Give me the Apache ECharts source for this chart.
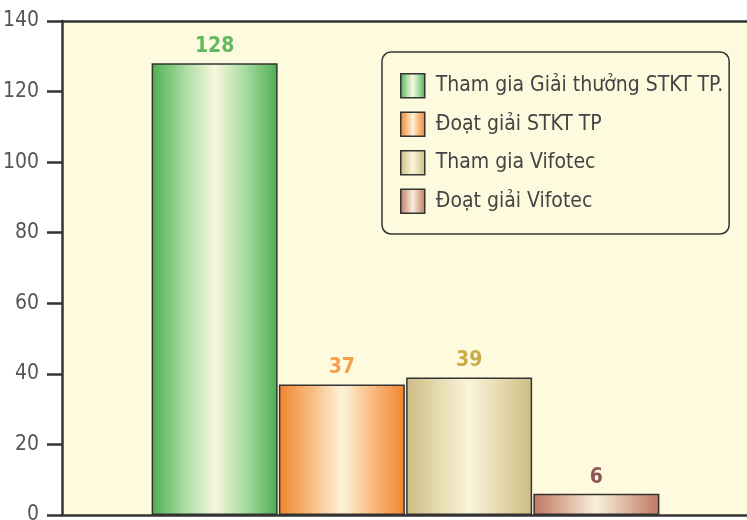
<!DOCTYPE html>
<html>
<head>
<meta charset="utf-8">
<script src="https://cdn.jsdelivr.net/npm/echarts@6/dist/echarts.min.js"></script>
<style>
  html, body { margin: 0; padding: 0; background: #fff; }
  #main { width: 747px; height: 520px; }
</style>
</head>
<body>
<div id="main"></div>
<script>
const categories = [""];
const seriesNames = [
  "Tham gia Giải thưởng STKT TP.",
  "Đoạt giải STKT TP",
  "Tham gia Vifotec",
  "Đoạt giải Vifotec"
];
const seriesValues = [128, 37, 39, 6];
const yTicks = [0, 20, 40, 60, 80, 100, 120, 140];

const FONT = "'DejaVu Sans Condensed', 'Noto Sans', sans-serif";

// edge / quarter / centre colours of each bar, plus its label colour
const palette = [
  { edge: "#4CAF50", mid: "#A5DA9E", light: "#F8F8DE", label: "#62BA5E" },
  { edge: "#F2852E", mid: "#F8B97C", light: "#FDF3DA", label: "#F6A04C" },
  { edge: "#CDBB82", mid: "#E5DAAF", light: "#FAF5DA", label: "#CBAB48" },
  { edge: "#BF7860", mid: "#DDB39E", light: "#F8F0DC", label: "#8E5656" }
];

let grad = (p) =>
  new echarts.graphic.LinearGradient(0, 0, 1, 0, [
    { offset: 0, color: p.edge },
    { offset: 0.25, color: p.mid },
    { offset: 0.5, color: p.light },
    { offset: 0.75, color: p.mid },
    { offset: 1, color: p.edge }
  ]);

let myChart = echarts.init(document.getElementById("main"));

let series = seriesNames.map((name, i) => ({
  name: name,
  type: "bar",
  data: [seriesValues[i]],
  barWidth: 126,
  barGap: "1%",
  itemStyle: {
    color: grad(palette[i]),
    borderColor: "#333",
    borderWidth: 1.5
  },
  label: {
    show: true,
    position: "top",
    distance: 6,
    fontFamily: FONT,
    fontWeight: "bold",
    fontSize: 21,
    color: palette[i].label
  }
}));

let option = {
  animation: false,
  textStyle: { fontFamily: FONT },
  grid: {
    left: 62,
    right: -2,
    top: 21,
    bottom: 5,
    outerBoundsMode: "none",
    containLabel: false,
    show: true,
    backgroundColor: "#FEFADE",
    borderWidth: 0
  },
  legend: {
    orient: "vertical",
    left: 382,
    top: 52,
    padding: [21, 6, 20, 18],
    backgroundColor: "#FEFADE",
    borderColor: "#333",
    borderWidth: 1.5,
    borderRadius: 9,
    icon: "rect",
    itemWidth: 24,
    itemHeight: 24,
    itemGap: 13,
    itemStyle: { borderColor: "#333", borderWidth: 1.5 },
    textStyle: {
      fontFamily: FONT,
      fontSize: 21,
      color: "#444",
      padding: [0, 0, 0, 6]
    },
    data: seriesNames
  },
  xAxis: [
    {
      type: "category",
      data: categories,
      axisLine: { show: true, lineStyle: { color: "#333", width: 2.5 } },
      axisTick: { show: false },
      axisLabel: { show: false }
    },
    {
      type: "category",
      position: "top",
      data: categories,
      axisLine: { show: true, lineStyle: { color: "#333", width: 2.5 } },
      axisTick: { show: false },
      axisLabel: { show: false }
    }
  ],
  yAxis: {
    type: "value",
    min: yTicks[0],
    max: yTicks[yTicks.length - 1],
    interval: 20,
    axisLine: { show: true, lineStyle: { color: "#333", width: 2.5 } },
    axisTick: { show: true, length: 15, lineStyle: { color: "#333", width: 2.5 } },
    axisLabel: {
      margin: 23,
      fontFamily: FONT,
      fontSize: 21,
      color: "#555"
    },
    splitLine: { show: false }
  },
  series: series
};

myChart.setOption(option);
</script>
</body>
</html>
